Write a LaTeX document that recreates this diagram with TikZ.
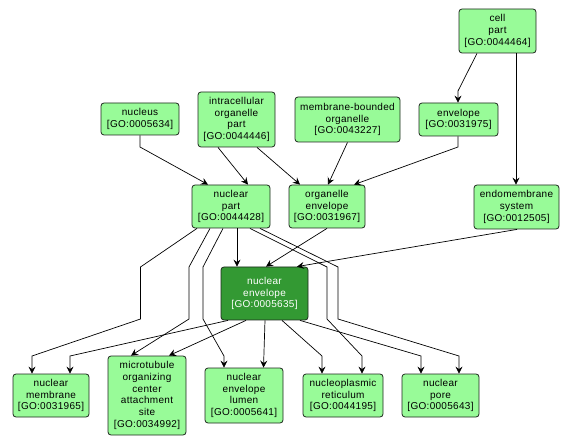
\documentclass[tikz,border=0pt]{standalone}
\usepackage{fontspec}
\setmainfont{Liberation Sans}[LetterSpace=3]
\usetikzlibrary{arrows.meta}
\definecolor{lg}{RGB}{152,251,152}
\definecolor{dg}{RGB}{51,153,51}
\definecolor{bd}{RGB}{30,40,30}
\begin{document}
\begin{tikzpicture}[x=1pt,y=-1pt,
  term/.style={draw=bd, line width=0.8pt, rounded corners=3pt, fill=lg, inner sep=0pt, align=center, font=\fontsize{10}{11.7}\selectfont},
  focus/.style={term, fill=dg, text=white},
  edge/.style={line width=0.7pt, -{Stealth[length=7pt,width=7pt,inset=2.5pt]}}]
\useasboundingbox[fill=white] (0,0) rectangle (573,446);

% nodes
\node[term, minimum width=77pt, minimum height=44pt] (cellpart) at (497.5,31) {cell\\part\\{[GO:0044464]}};
\node[term, minimum width=78pt, minimum height=32pt] (nucleus) at (140,119) {nucleus\\{[GO:0005634]}};
\node[term, minimum width=77pt, minimum height=55pt] (intra) at (236.5,119.5) {intracellular\\organelle\\part\\{[GO:0044446]}};
\node[term, minimum width=105pt, minimum height=45pt] (membr) at (347.5,119.5) {membrane-bounded\\organelle\\{[GO:0043227]}};
\node[term, minimum width=79pt, minimum height=33pt] (envelope) at (458.5,119.5) {envelope\\{[GO:0031975]}};
\node[term, minimum width=78pt, minimum height=43pt] (nucpart) at (231,206.5) {nuclear\\part\\{[GO:0044428]}};
\node[term, minimum width=76pt, minimum height=43pt] (orgenv) at (327,206.5) {organelle\\envelope\\{[GO:0031967]}};
\node[term, minimum width=85pt, minimum height=44pt] (endo) at (516.5,207) {endomembrane\\system\\{[GO:0012505]}};
\node[focus, minimum width=87pt, minimum height=53pt] (nucenv) at (264.5,293.5) {nuclear\\envelope\\{[GO:0005635]}};
\node[term, minimum width=76pt, minimum height=43pt] (nucmem) at (51,395.5) {nuclear\\membrane\\{[GO:0031965]}};
\node[term, minimum width=78pt, minimum height=79pt] (mtoc) at (147,395.5) {microtubule\\organizing\\center\\attachment\\site\\{[GO:0034992]}};
\node[term, minimum width=78pt, minimum height=55pt] (lumen) at (244,395.5) {nuclear\\envelope\\lumen\\{[GO:0005641]}};
\node[term, minimum width=80pt, minimum height=43pt] (nucleo) at (343,395.5) {nucleoplasmic\\reticulum\\{[GO:0044195]}};
\node[term, minimum width=77pt, minimum height=43pt] (pore) at (440.5,395.5) {nuclear\\pore\\{[GO:0005643]}};

% upper edges
\draw[edge] ([xshift=-20.5pt]cellpart.south) -- (458,91) -- ([xshift=-0.5pt]envelope.north);
\draw[edge] ([xshift=18.5pt]cellpart.south) -- ([xshift=-0.5pt]endo.north);
\draw[edge] (nucleus.south) -- (140,147) -- ([xshift=-23pt]nucpart.north);
\draw[edge] ([xshift=-18.5pt]intra.south) -- ([xshift=17pt]nucpart.north);
\draw[edge] ([xshift=20.5pt]intra.south) -- ([xshift=-27pt]orgenv.north);
\draw[edge] (membr.south) -- ([xshift=1pt]orgenv.north);
\draw[edge] ([xshift=-0.5pt]envelope.south) -- (458,147) -- ([xshift=27pt]orgenv.north);

% into nuclear envelope
\draw[edge] ([xshift=6pt]nucpart.south) -- ([xshift=-27.5pt]nucenv.north);
\draw[edge] (orgenv.south) -- ([xshift=1.5pt]nucenv.north);
\draw[edge] ([xshift=0.5pt]endo.south) -- ([xshift=32.5pt]nucenv.north);

% from nuclear part to bottom row
\draw[edge] ([xshift=-34pt]nucpart.south) -- (140.5,267) -- (140.5,319) -- (32,356) -- ([xshift=-19pt]nucmem.north);
\draw[edge] ([xshift=-21pt]nucpart.south) -- (189,267) -- (189,319) -- ([xshift=-16pt]mtoc.north);
\draw[edge] ([xshift=-8pt]nucpart.south) -- (203,267) -- (203,319) -- (224,356) -- ([xshift=-20pt]lumen.north);
\draw[edge] ([xshift=19pt]nucpart.south) -- (327,267) -- (327,319) -- (362,356) -- ([xshift=19pt]nucleo.north);
\draw[edge] ([xshift=29pt]nucpart.south) -- (338,267) -- (338,319) -- (459,356) -- ([xshift=18.5pt]pore.north);

% from nuclear envelope to bottom row
\draw[edge] ([xshift=-36.5pt]nucenv.south) -- (70,356) -- ([xshift=19pt]nucmem.north);
\draw[edge] ([xshift=-18.5pt]nucenv.south) -- ([xshift=22pt]mtoc.north);
\draw[edge] ([xshift=0.5pt]nucenv.south) -- ([xshift=19.5pt]lumen.north);
\draw[edge] ([xshift=17.5pt]nucenv.south) -- (322,356) -- ([xshift=-21pt]nucleo.north);
\draw[edge] ([xshift=35.5pt]nucenv.south) -- (421,356) -- ([xshift=-19.5pt]pore.north);
\end{tikzpicture}
\end{document}
